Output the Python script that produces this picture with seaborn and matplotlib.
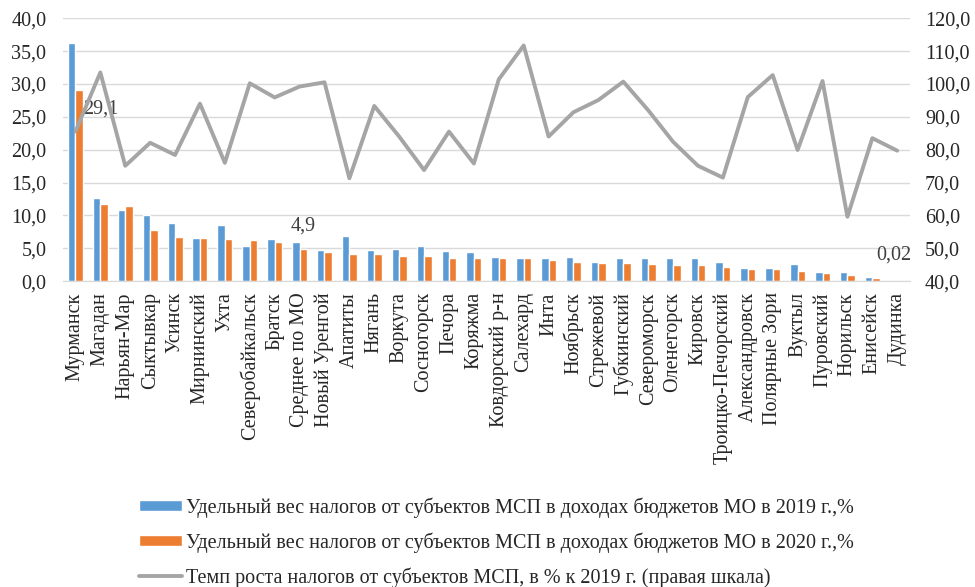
import numpy as np
import pandas as pd
import matplotlib
matplotlib.use("Agg")
import matplotlib.pyplot as plt
import matplotlib.ticker as ticker
from matplotlib.patches import Patch
from matplotlib.lines import Line2D
import seaborn as sns

cities = ["Мурманск", "Магадан", "Нарьян-Мар", "Сыктывкар", "Усинск", "Мирнинский",
          "Ухта", "Северобайкальск", "Братск", "Среднее по МО", "Новый Уренгой",
          "Апатиты", "Нягань", "Воркута", "Сосногорск", "Печора", "Коряжма",
          "Ковдорский р-н", "Салехард", "Инта", "Ноябрьск", "Стрежевой", "Губкинский",
          "Североморск", "Оленегорск", "Кировск", "Троицко-Печорский", "Александровск",
          "Полярные Зори", "Вуктыл", "Пуровский", "Норильск", "Енисейск", "Дудинка"]

share_2019 = [36.3, 12.7, 10.9, 10.1, 8.9, 6.6, 8.6, 5.4, 6.4, 5.9, 4.7,
              6.9, 4.7, 4.9, 5.4, 4.6, 4.4, 3.75, 3.45, 3.6, 3.75, 2.9, 3.45,
              3.45, 3.6, 3.45, 2.9, 2.0, 2.0, 2.6, 1.4, 1.4, 0.6, 0.03]
share_2020 = [29.1, 11.7, 11.4, 7.8, 6.75, 6.6, 6.45, 6.25, 5.9, 4.9, 4.4,
              4.2, 4.2, 3.9, 3.9, 3.6, 3.6, 3.45, 3.45, 3.25, 2.9, 2.75, 2.75,
              2.6, 2.45, 2.45, 2.1, 1.8, 1.8, 1.6, 1.25, 0.9, 0.45, 0.02]
growth = [85.5, 103.5, 75.1, 82.1, 78.4, 94.0, 76.0, 100.2, 95.9, 99.2, 100.5,
          71.3, 93.3, 84.0, 73.8, 85.5, 75.8, 101.4, 111.7, 84.0, 91.4, 95.1, 100.7,
          92.0, 82.4, 75.1, 71.5, 96.0, 102.7, 79.9, 100.9, 59.6, 83.5, 79.7]

labels = ["Удельный вес налогов от субъектов МСП в доходах бюджетов МО в 2019 г.,%",
          "Удельный вес налогов от субъектов МСП в доходах бюджетов МО в 2020 г.,%",
          "Темп роста налогов от субъектов МСП, в % к 2019 г. (правая шкала)"]
annotated = {"Мурманск": "29,1", "Среднее по МО": "4,9", "Дудинка": "0,02"}

blue, orange, grey = "#5B9BD5", "#ED7D31", "#A5A5A5"
fs = 14.5

sns.set_style("white")
plt.rcParams["font.family"] = ["Liberation Serif", "DejaVu Serif"]

df = pd.DataFrame({
    "city": cities * 2,
    "value": share_2019 + share_2020,
    "year": ["2019"] * len(cities) + ["2020"] * len(cities),
})

fig = plt.figure(figsize=(9.75, 5.87), dpi=100)
ax = fig.add_axes([0.0646, 0.521, 0.8684, 0.448])

sns.barplot(data=df, x="city", y="value", hue="year", palette=[blue, orange],
            width=0.6, gap=0, saturation=1, ax=ax, legend=False, zorder=2)
ax.set_ylim(0, 40)
ax.set_xlim(-0.5, len(cities) - 0.5)
ax.yaxis.set_major_locator(ticker.MultipleLocator(5))
ax.yaxis.set_major_formatter(ticker.FuncFormatter(lambda v, _: f"{v:.1f}".replace(".", ",")))
ax.grid(axis="y", color="#D9D9D9", linewidth=1, zorder=0)
ax.set_axisbelow(True)
ax.set_xlabel("")
ax.set_ylabel("")
for s in ["top", "right", "left"]:
    ax.spines[s].set_visible(False)
ax.spines["bottom"].set_color("#D9D9D9")
ax.tick_params(axis="both", length=0, labelsize=fs)
ax.tick_params(axis="y", pad=12)
ax.tick_params(axis="x", pad=8)
plt.setp(ax.get_xticklabels(), rotation=90)

# подписи данных у столбцов 2020 г.
for i, c in enumerate(cities):
    if c in annotated:
        v = share_2020[i]
        if c == "Мурманск":
            ax.text(i + 0.3, v - 4.4, annotated[c], ha="left", va="bottom",
                    fontsize=fs, color="#404040")
        elif c == "Дудинка":
            ax.text(i + 0.55, v + 2.5, annotated[c], ha="right", va="bottom",
                    fontsize=fs, color="#404040")
        else:
            ax.text(i + 0.15, v + 2.05, annotated[c], ha="center", va="bottom",
                    fontsize=fs, color="#404040")

ax2 = ax.twinx()
sns.lineplot(x=np.arange(len(cities)), y=growth, color=grey, linewidth=2.8, ax=ax2)
ax2.set_ylim(40, 120)
ax2.yaxis.set_major_locator(ticker.MultipleLocator(10))
ax2.yaxis.set_major_formatter(ticker.FuncFormatter(lambda v, _: f"{v:.1f}".replace(".", ",")))
for s in ax2.spines.values():
    s.set_visible(False)
ax2.tick_params(axis="y", length=0, labelsize=fs, pad=11)
ax2.grid(False)

handles = [Patch(facecolor=blue), Patch(facecolor=orange),
           Line2D([0], [0], color=grey, linewidth=2.8)]
fig.legend(handles, labels, loc="upper left", bbox_to_anchor=(0.1426, 0.153),
           frameon=False, fontsize=fs, labelspacing=0.72, handlelength=2.15,
           handleheight=0.5, handletextpad=0.2, borderaxespad=0, borderpad=0)

fig.savefig("out.png", dpi=100)
